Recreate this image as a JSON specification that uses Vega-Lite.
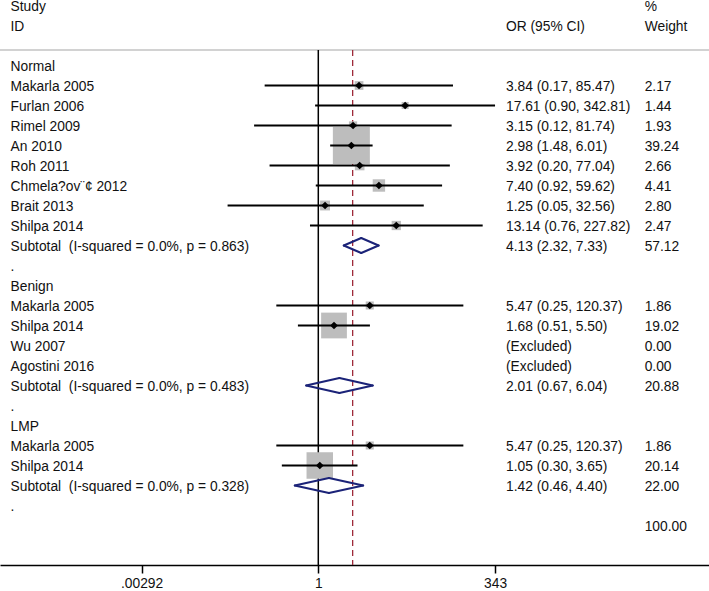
{
  "$schema": "https://vega.github.io/schema/vega-lite/v6.json",
  "width": 709,
  "height": 565,
  "autosize": "none",
  "padding": {"left": 0, "top": 0, "right": 0, "bottom": 26},
  "background": "white",
  "config": {"view": {"stroke": null}, "text": {"font": "Liberation Sans", "fontSize": 13.8, "color": "#111111"}},
  "data": {"values": [
    {"row": -2, "label": "Study", "ortext": "", "wtext": "%", "kind": "head"},
    {"row": -1, "label": "ID", "ortext": "OR (95% CI)", "wtext": "Weight", "kind": "head"},
    {"row": 1, "label": "Normal", "ortext": "", "wtext": "", "kind": "group"},
    {"row": 2, "label": "Makarla 2005", "ortext": "3.84 (0.17, 85.47)", "wtext": "2.17", "or": 3.84, "lo": 0.17, "hi": 85.47, "w": 2.17, "kind": "study"},
    {"row": 3, "label": "Furlan 2006", "ortext": "17.61 (0.90, 342.81)", "wtext": "1.44", "or": 17.61, "lo": 0.90, "hi": 342.81, "w": 1.44, "kind": "study"},
    {"row": 4, "label": "Rimel 2009", "ortext": "3.15 (0.12, 81.74)", "wtext": "1.93", "or": 3.15, "lo": 0.12, "hi": 81.74, "w": 1.93, "kind": "study"},
    {"row": 5, "label": "An 2010", "ortext": "2.98 (1.48, 6.01)", "wtext": "39.24", "or": 2.98, "lo": 1.48, "hi": 6.01, "w": 39.24, "kind": "study"},
    {"row": 6, "label": "Roh 2011", "ortext": "3.92 (0.20, 77.04)", "wtext": "2.66", "or": 3.92, "lo": 0.20, "hi": 77.04, "w": 2.66, "kind": "study"},
    {"row": 7, "label": "Chmela?ov¨¢ 2012", "ortext": "7.40 (0.92, 59.62)", "wtext": "4.41", "or": 7.40, "lo": 0.92, "hi": 59.62, "w": 4.41, "kind": "study"},
    {"row": 8, "label": "Brait 2013", "ortext": "1.25 (0.05, 32.56)", "wtext": "2.80", "or": 1.25, "lo": 0.05, "hi": 32.56, "w": 2.80, "kind": "study"},
    {"row": 9, "label": "Shilpa 2014", "ortext": "13.14 (0.76, 227.82)", "wtext": "2.47", "or": 13.14, "lo": 0.76, "hi": 227.82, "w": 2.47, "kind": "study"},
    {"row": 10, "label": "Subtotal\u00a0 (I-squared = 0.0%, p = 0.863)", "ortext": "4.13 (2.32, 7.33)", "wtext": "57.12", "or": 4.13, "lo": 2.32, "hi": 7.33, "w": 57.12, "kind": "sub"},
    {"row": 11, "label": ".", "ortext": "", "wtext": "", "kind": "blank"},
    {"row": 12, "label": "Benign", "ortext": "", "wtext": "", "kind": "group"},
    {"row": 13, "label": "Makarla 2005", "ortext": "5.47 (0.25, 120.37)", "wtext": "1.86", "or": 5.47, "lo": 0.25, "hi": 120.37, "w": 1.86, "kind": "study"},
    {"row": 14, "label": "Shilpa 2014", "ortext": "1.68 (0.51, 5.50)", "wtext": "19.02", "or": 1.68, "lo": 0.51, "hi": 5.50, "w": 19.02, "kind": "study"},
    {"row": 15, "label": "Wu 2007", "ortext": "(Excluded)", "wtext": "0.00", "kind": "excluded"},
    {"row": 16, "label": "Agostini 2016", "ortext": "(Excluded)", "wtext": "0.00", "kind": "excluded"},
    {"row": 17, "label": "Subtotal\u00a0 (I-squared = 0.0%, p = 0.483)", "ortext": "2.01 (0.67, 6.04)", "wtext": "20.88", "or": 2.01, "lo": 0.67, "hi": 6.04, "w": 20.88, "kind": "sub"},
    {"row": 18, "label": ".", "ortext": "", "wtext": "", "kind": "blank"},
    {"row": 19, "label": "LMP", "ortext": "", "wtext": "", "kind": "group"},
    {"row": 20, "label": "Makarla 2005", "ortext": "5.47 (0.25, 120.37)", "wtext": "1.86", "or": 5.47, "lo": 0.25, "hi": 120.37, "w": 1.86, "kind": "study"},
    {"row": 21, "label": "Shilpa 2014", "ortext": "1.05 (0.30, 3.65)", "wtext": "20.14", "or": 1.05, "lo": 0.30, "hi": 3.65, "w": 20.14, "kind": "study"},
    {"row": 22, "label": "Subtotal\u00a0 (I-squared = 0.0%, p = 0.328)", "ortext": "1.42 (0.46, 4.40)", "wtext": "22.00", "or": 1.42, "lo": 0.46, "hi": 4.40, "w": 22.00, "kind": "sub"},
    {"row": 23, "label": ".", "ortext": "", "wtext": "", "kind": "blank"},
    {"row": 24, "label": "", "ortext": "", "wtext": "100.00", "or": 3.11, "w": 100, "kind": "overall"}
  ]},
  "layer": [
    {
      "data": {"values": [{}]},
      "mark": {"type": "rule", "color": "#a6a6a6", "strokeWidth": 1.2},
      "encoding": {
        "y": {"datum": 0.225, "type": "quantitative", "scale": {"domain": [-2.275, 25.975], "reverse": true, "nice": false, "zero": false}, "axis": null}
      }
    },
    {
      "transform": [{"filter": "datum.kind == 'overall'"}],
      "mark": {"type": "rule", "color": "#9e2a3a", "strokeWidth": 1.3, "strokeDash": [6, 4]},
      "encoding": {
        "x": {"field": "or", "type": "quantitative", "title": null, "scale": {"type": "log", "domain": [2.721e-5, 401500], "nice": false},
              "axis": {"values": [0.00292, 1, 343], "labelExpr": "datum.value < 1 ? substring(toString(datum.value), 1) : toString(datum.value)", "title": null, "grid": false, "domainColor": "#000000", "domainWidth": 1.5, "tickColor": "#000000", "tickWidth": 1.5, "tickSize": 8, "labelFont": "Liberation Sans", "labelFontSize": 13.8, "labelColor": "#111111", "labelPadding": 3, "labelFlush": false, "labelOverlap": false}},
        "y": {"datum": 0.225, "type": "quantitative"},
        "y2": {"datum": 25.975}
      }
    },
    {
      "data": {"values": [{}]},
      "mark": {"type": "rule", "color": "#000000", "strokeWidth": 1.5},
      "encoding": {
        "x": {"datum": 1, "type": "quantitative"},
        "y": {"datum": 0.225, "type": "quantitative"},
        "y2": {"datum": 25.975}
      }
    },
    {
      "transform": [{"filter": "datum.kind == 'study'"}],
      "mark": {"type": "point", "shape": "square", "filled": true, "color": "#bdbdbd", "opacity": 1},
      "encoding": {
        "x": {"field": "or", "type": "quantitative", "title": null},
        "y": {"field": "row", "type": "quantitative"},
        "size": {"field": "w", "type": "quantitative", "scale": {"domain": [0, 39.24], "range": [0, 1369]}, "legend": null}
      }
    },
    {
      "transform": [{"filter": "datum.kind == 'study'"}],
      "mark": {"type": "rule", "color": "#000000", "strokeWidth": 2},
      "encoding": {
        "x": {"field": "lo", "type": "quantitative", "title": null},
        "x2": {"field": "hi"},
        "y": {"field": "row", "type": "quantitative"}
      }
    },
    {
      "transform": [{"filter": "datum.kind == 'study'"}],
      "mark": {"type": "point", "shape": "diamond", "filled": true, "color": "#000000", "opacity": 1, "size": 60},
      "encoding": {
        "x": {"field": "or", "type": "quantitative", "title": null},
        "y": {"field": "row", "type": "quantitative"}
      }
    },
    {
      "transform": [{"filter": "datum.kind == 'sub'"}],
      "mark": {"type": "rule", "color": "#1b2378", "strokeWidth": 2, "strokeCap": "round", "y2Offset": -7.5},
      "encoding": {
        "x": {"field": "lo", "type": "quantitative", "title": null},
        "x2": {"field": "or"},
        "y": {"field": "row", "type": "quantitative"},
        "y2": {"field": "row"}
      }
    },
    {
      "transform": [{"filter": "datum.kind == 'sub'"}],
      "mark": {"type": "rule", "color": "#1b2378", "strokeWidth": 2, "strokeCap": "round", "y2Offset": 7.5},
      "encoding": {
        "x": {"field": "lo", "type": "quantitative", "title": null},
        "x2": {"field": "or"},
        "y": {"field": "row", "type": "quantitative"},
        "y2": {"field": "row"}
      }
    },
    {
      "transform": [{"filter": "datum.kind == 'sub'"}],
      "mark": {"type": "rule", "color": "#1b2378", "strokeWidth": 2, "strokeCap": "round", "yOffset": -7.5},
      "encoding": {
        "x": {"field": "or", "type": "quantitative", "title": null},
        "x2": {"field": "hi"},
        "y": {"field": "row", "type": "quantitative"},
        "y2": {"field": "row"}
      }
    },
    {
      "transform": [{"filter": "datum.kind == 'sub'"}],
      "mark": {"type": "rule", "color": "#1b2378", "strokeWidth": 2, "strokeCap": "round", "yOffset": 7.5},
      "encoding": {
        "x": {"field": "or", "type": "quantitative", "title": null},
        "x2": {"field": "hi"},
        "y": {"field": "row", "type": "quantitative"},
        "y2": {"field": "row"}
      }
    },
    {
      "mark": {"type": "text", "align": "left", "baseline": "middle", "dy": 1.5},
      "encoding": {
        "x": {"datum": 3.85e-5, "type": "quantitative"},
        "y": {"field": "row", "type": "quantitative"},
        "text": {"field": "label"}
      }
    },
    {
      "mark": {"type": "text", "align": "left", "baseline": "middle", "dy": 1.5},
      "encoding": {
        "x": {"datum": 492.2, "type": "quantitative"},
        "y": {"field": "row", "type": "quantitative"},
        "text": {"field": "ortext"}
      }
    },
    {
      "mark": {"type": "text", "align": "left", "baseline": "middle", "dy": 1.5},
      "encoding": {
        "x": {"datum": 48000, "type": "quantitative"},
        "y": {"field": "row", "type": "quantitative"},
        "text": {"field": "wtext"}
      }
    }
  ]
}
